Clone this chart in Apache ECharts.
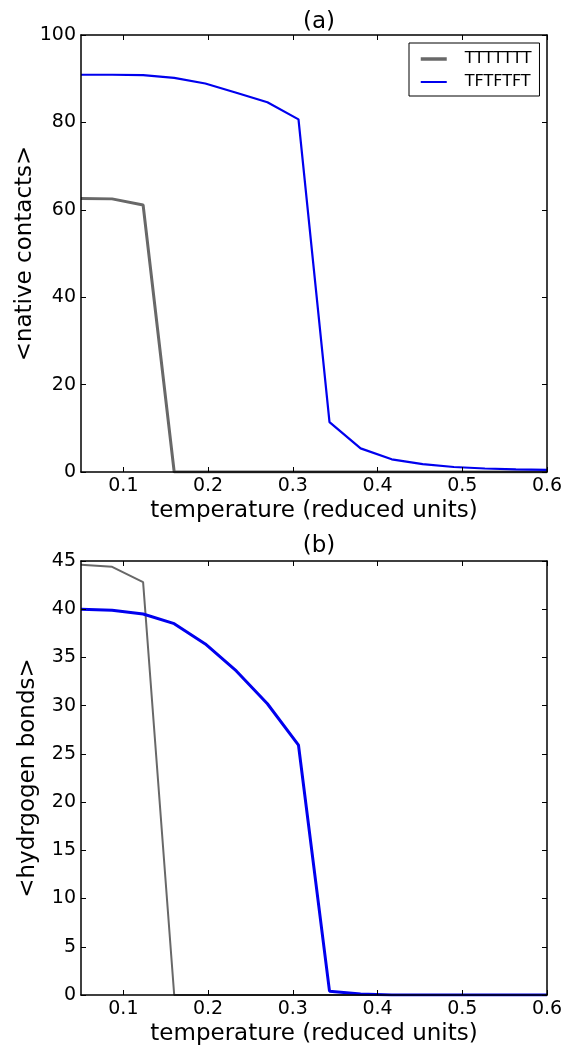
<!DOCTYPE html>
<html><head><meta charset="utf-8">
<script src="https://cdn.jsdelivr.net/npm/echarts@6/dist/echarts.min.js"></script>
<style>html,body{margin:0;padding:0;background:#fff}#c{width:567px;height:1050px}</style>
</head><body><div id="c"></div>
<script>
// ---- data ----
const temperature = [0.05, 0.0867, 0.1233, 0.16, 0.1967, 0.2333, 0.27, 0.3067, 0.3433, 0.38, 0.4167, 0.4533, 0.49, 0.5267, 0.5633, 0.6];
const nativeTTTTTTT = [62.6, 62.5, 61.1, 0.0, 0.0, 0.0, 0.0, 0.0, 0.0, 0.0, 0.0, 0.0, 0.0, 0.0, 0.0, 0.0];
const nativeTFTFTFT = [90.9, 90.9, 90.8, 90.2, 88.9, 86.8, 84.6, 80.7, 11.4, 5.4, 2.9, 1.8, 1.15, 0.8, 0.6, 0.5];
const hbondTTTTTTT = [44.6, 44.4, 42.8, 0.0, 0.0, 0.0, 0.0, 0.0, 0.0, 0.0, 0.0, 0.0, 0.0, 0.0, 0.0, 0.0];
const hbondTFTFTFT = [40.0, 39.9, 39.5, 38.5, 36.4, 33.6, 30.2, 25.9, 0.4, 0.1, 0.0, 0.0, 0.0, 0.0, 0.0, 0.0];
const seriesNames = ['TTTTTTT', 'TFTFTFT'];
const xTicks = [0.1, 0.2, 0.3, 0.4, 0.5, 0.6];
const yTicksA = [0, 20, 40, 60, 80, 100];
const yTicksB = [0, 5, 10, 15, 20, 25, 30, 35, 40, 45];
const titles = ['(a)', '(b)'];
const xName = 'temperature (reduced units)';
const yNames = ['<native contacts>', '<hydrgogen bonds>'];

const FONT = 'DejaVu Sans';
const GRAY = '#686868';
const BLUE = '#0000ee';

function pairs(xs, ys) { return xs.map((x, i) => [x, ys[i]]); }

const grids = [
  { left: 81, top: 35, width: 466, height: 437 },
  { left: 81, top: 561, width: 466, height: 434 }
];
const yTickSets = [yTicksA, yTicksB];
const yNameGaps = [44, 41];

const lineAx = { show: true, onZero: false, lineStyle: { color: '#000', width: 1.5 } };
const tickSt = { inside: true, length: 5, lineStyle: { color: '#000', width: 1 } };

const xAxes = [], yAxes = [];
[0, 1].forEach(g => {
  xAxes.push({
    gridIndex: g, type: 'value', min: 0.05, max: 0.6, position: 'bottom', z: 5,
    axisLine: lineAx,
    axisTick: Object.assign({ customValues: xTicks }, tickSt),
    axisLabel: { customValues: xTicks, formatter: v => v.toFixed(1), fontSize: 19, fontFamily: FONT, color: '#000', margin: 5 },
    splitLine: { show: false },
    name: xName, nameLocation: 'middle', nameGap: 28, nameMoveOverlap: false,
    nameTextStyle: { fontSize: 23, fontFamily: FONT, color: '#000' }
  });
  xAxes.push({
    gridIndex: g, type: 'value', min: 0.05, max: 0.6, position: 'top', z: 5,
    axisLine: lineAx,
    axisTick: Object.assign({ customValues: xTicks }, tickSt),
    axisLabel: { show: false }, splitLine: { show: false }
  });
  const yt = yTickSets[g];
  yAxes.push({
    gridIndex: g, type: 'value', min: yt[0], max: yt[yt.length - 1], position: 'left', z: 5,
    axisLine: lineAx,
    axisTick: Object.assign({ customValues: yt }, tickSt),
    axisLabel: { customValues: yt, fontSize: 19, fontFamily: FONT, color: '#000', margin: 5 },
    splitLine: { show: false },
    name: yNames[g], nameLocation: 'middle', nameGap: yNameGaps[g], nameRotate: 90, nameMoveOverlap: false,
    nameTextStyle: { fontSize: 23, fontFamily: FONT, color: '#000' }
  });
  yAxes.push({
    gridIndex: g, type: 'value', min: yt[0], max: yt[yt.length - 1], position: 'right', z: 5,
    axisLine: lineAx,
    axisTick: Object.assign({ customValues: yt }, tickSt),
    axisLabel: { show: false }, splitLine: { show: false }
  });
});

function line(name, data, g, color, width) {
  return {
    name, type: 'line', data, xAxisIndex: g * 2, yAxisIndex: g * 2,
    symbol: 'none', showSymbol: false, animation: false,
    lineStyle: { color, width }, itemStyle: { color }, z: 2
  };
}

const option = {
  animation: false,
  backgroundColor: '#fff',
  title: [
    { text: titles[0], left: 314, top: 6, textAlign: 'center', textStyle: { fontSize: 23, fontWeight: 'normal', fontFamily: FONT, color: '#000' } },
    { text: titles[1], left: 314, top: 530, textAlign: 'center', textStyle: { fontSize: 23, fontWeight: 'normal', fontFamily: FONT, color: '#000' } }
  ],
  legend: {
    data: [
      { name: seriesNames[0], lineStyle: { color: GRAY, width: 3.5 } },
      { name: seriesNames[1], lineStyle: { color: BLUE, width: 2 } }
    ],
    orient: 'vertical', left: 409, top: 43, z: 10,
    padding: [8, 8, 6, 10], itemGap: 7, itemWidth: 26, itemHeight: 16,
    itemStyle: { opacity: 0 },
    borderColor: '#000', borderWidth: 1, borderRadius: 0, backgroundColor: '#fff',
    textStyle: { fontSize: 16, fontFamily: FONT, color: '#000', padding: [0, 0, 0, 13] }
  },
  grid: grids,
  xAxis: xAxes,
  yAxis: yAxes,
  series: [
    line(seriesNames[0], pairs(temperature, nativeTTTTTTT), 0, GRAY, 3),
    line(seriesNames[1], pairs(temperature, nativeTFTFTFT), 0, BLUE, 2.2),
    line(seriesNames[0], pairs(temperature, hbondTTTTTTT), 1, GRAY, 2),
    line(seriesNames[1], pairs(temperature, hbondTFTFTFT), 1, BLUE, 3)
  ]
};

const chart = echarts.init(document.getElementById('c'), null, { renderer: 'canvas' });
chart.setOption(option);
</script>
</body></html>
